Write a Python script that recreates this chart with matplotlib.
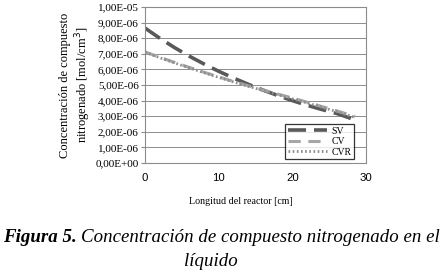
import matplotlib
matplotlib.use("Agg")
import matplotlib.pyplot as plt
from matplotlib.ticker import FixedLocator

x = [0, 2, 4, 6, 8, 10, 12, 14, 16, 18, 20, 22, 24, 26, 28, 28.5]
sv = [8.65, 8.0, 7.4, 6.85, 6.35, 5.88, 5.45, 5.05, 4.68, 4.33, 4.0, 3.7, 3.43, 3.18, 2.85, 2.8]
cv = [7.12, 6.78, 6.45, 6.13, 5.82, 5.52, 5.23, 4.95, 4.68, 4.42, 4.17, 3.9, 3.62, 3.35, 3.05, 2.98]
cvr = [7.1, 6.75, 6.42, 6.1, 5.79, 5.49, 5.2, 4.92, 4.65, 4.38, 4.12, 3.85, 3.57, 3.3, 3.0, 2.92]
scale = 1e-6
yticks = [i * 1e-6 for i in range(11)]
ytick_labels = ["0,00E+00", "1,00E-06", "2,00E-06", "3,00E-06", "4,00E-06", "5,00E-06",
                "6,00E-06", "7,00E-06", "8,00E-06", "9,00E-06", "1,00E-05"]
xticks = [0, 10, 20, 30]

W, H = 443, 274
serif = "Liberation Serif"
fig = plt.figure(figsize=(W/100, H/100), dpi=100)
ax = fig.add_axes([145/W, 1 - 163/H, (366-145)/W, (163-7)/H])

ax.plot(x, [v*scale for v in sv], color="#595959", lw=2.6, dashes=(5, 2.2), label="SV")
ax.plot(x, [v*scale for v in cv], color="#a6a6a6", lw=2.2, dashes=(4, 2.5), label="CV")
ax.plot(x, [v*scale for v in cvr], color="#8c8c8c", lw=2.0, dashes=(0.6, 0.9), label="CVR")

ax.set_xlim(0, 30)
ax.set_ylim(0, 1e-5)
ax.yaxis.set_major_locator(FixedLocator(yticks))
ax.set_yticklabels(ytick_labels, fontfamily=serif, fontsize=8)
ax.set_xticks(xticks)
ax.set_xticklabels([str(t) for t in xticks], fontfamily="Liberation Sans", fontsize=8.2)
ax.grid(axis="y", color="#8c8c8c", lw=0.7)
ax.set_axisbelow(True)
for s in ax.spines.values():
    s.set_color("#8c8c8c")
    s.set_linewidth(0.8)
ax.tick_params(axis="y", length=3, color="#8c8c8c", pad=1.5)
ax.tick_params(axis="x", length=0, pad=7)

fig.text(241/W, 1 - 202/H, "Longitud del reactor [cm]", fontfamily=serif, fontsize=7.2,
         ha="center", va="center")
ax.set_ylabel("Concentración de compuesto\nnitrogenado [mol/cm$^3$]", fontfamily=serif,
              fontsize=9, labelpad=2, linespacing=1.15)

leg = ax.legend(loc="lower right", bbox_to_anchor=(0.955, 0.01), prop={"family": serif, "size": 7},
                frameon=True, fancybox=False, edgecolor="black", handlelength=4.0,
                borderpad=0.3, labelspacing=0.15, handletextpad=0.4, borderaxespad=0.2)
leg.get_frame().set_linewidth(0.9)

fs = 13.6
t1 = fig.text(3/W, 1 - 237/H, "Figura 5.", fontfamily=serif, fontstyle="italic",
              fontweight="bold", fontsize=fs, va="center", ha="left")
fig.canvas.draw()
bb = t1.get_window_extent(fig.canvas.get_renderer())
fig.text((bb.x1 + 4)/W, 1 - 237/H, "Concentración de compuesto nitrogenado en el", fontfamily=serif,
         fontstyle="italic", fontsize=fs, va="center", ha="left")
fig.text(211/W, 1 - 262/H, "líquido", fontfamily=serif, fontstyle="italic",
         fontsize=fs, va="center", ha="center")

fig.savefig("out.png", dpi=100)
